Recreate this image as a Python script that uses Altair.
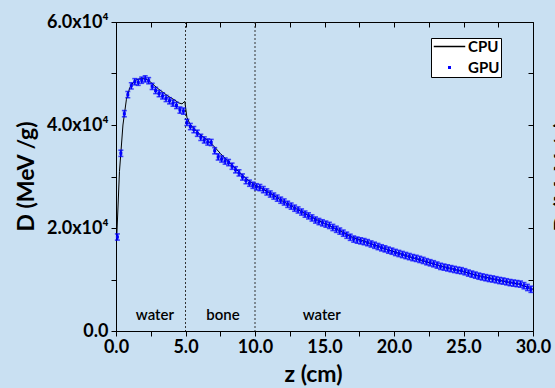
import altair as alt
import pandas as pd

# ---- data ----
CPU_Z = [0.05, 0.25, 0.5, 0.75, 1.0, 1.25, 1.5, 1.75, 2.0, 2.25, 2.5, 2.75, 3.0, 3.25,
         3.5, 3.75, 4.0, 4.25, 4.5, 4.75, 4.95, 5.1, 5.3, 5.6, 6.0, 6.5, 7.0, 7.5, 8.0,
         8.5, 9.0, 9.5, 10.0, 10.5, 11.0, 12.0, 13.0, 14.0, 15.0, 16.0, 17.0, 18.0,
         19.0, 20.0, 21.0, 22.0, 23.0, 24.0, 25.0, 26.0, 27.0, 28.0, 29.0, 30.0]
CPU_D = [18000, 31000, 40000, 45000, 47300, 48300, 48800, 49000, 49000, 48800, 48300,
         47700, 47100, 46600, 46100, 45600, 45200, 44800, 44300, 44100, 44600, 41500,
         40300, 39300, 38300, 37200, 36000, 34500, 33100, 31800, 30500, 29300, 28300,
         27700, 26900, 25200, 23700, 22200, 20900, 19600, 18200, 17300, 16300, 15400,
         14500, 13700, 12900, 12200, 11500, 10800, 10200, 9600, 9100, 8100]

GPU_Z = [0.1, 0.35, 0.6, 0.85, 1.1, 1.35, 1.6, 1.85, 2.1, 2.35,
         2.6, 2.85, 3.1, 3.35, 3.6, 3.85, 4.1, 4.35, 4.6, 4.85,
         5.1, 5.35, 5.6, 5.85, 6.1, 6.35, 6.6, 6.85, 7.1, 7.35,
         7.6, 7.85, 8.1, 8.35, 8.6, 8.85, 9.1, 9.35, 9.6, 9.85,
         10.1, 10.35, 10.6, 10.85, 11.1, 11.35, 11.6, 11.85, 12.1, 12.35,
         12.6, 12.85, 13.1, 13.35, 13.6, 13.85, 14.1, 14.35, 14.6, 14.85,
         15.1, 15.35, 15.6, 15.85, 16.1, 16.35, 16.6, 16.85, 17.1, 17.35,
         17.6, 17.85, 18.1, 18.35, 18.6, 18.85, 19.1, 19.35, 19.6, 19.85,
         20.1, 20.35, 20.6, 20.85, 21.1, 21.35, 21.6, 21.85, 22.1, 22.35,
         22.6, 22.85, 23.1, 23.35, 23.6, 23.85, 24.1, 24.35, 24.6, 24.85,
         25.1, 25.35, 25.6, 25.85, 26.1, 26.35, 26.6, 26.85, 27.1, 27.35,
         27.6, 27.85, 28.1, 28.35, 28.6, 28.85, 29.1, 29.35, 29.6, 29.85]
GPU_D = [18250, 34500, 42200, 45900, 47600, 48400, 48300, 48700, 48950, 48600,
         47500, 46700, 46100, 45650, 45150, 44700, 44250, 43800, 42900, 42700,
         40500, 39700, 39100, 38400, 37600, 37100, 36700, 36600, 35000, 33800,
         33400, 33000, 32700, 32000, 31300, 30700, 29900, 29200, 28700, 28300,
         28000, 27850, 27450, 27000, 26600, 26200, 25800, 25400, 25050, 24600,
         24250, 23850, 23500, 23100, 22700, 22350, 21950, 21550, 21250, 21000,
         20750, 20500, 20100, 19750, 19400, 19000, 18600, 18200, 17850, 17650,
         17500, 17350, 17150, 16900, 16650, 16400, 16150, 15950, 15700, 15500,
         15250, 15050, 14850, 14650, 14450, 14250, 14100, 13900, 13700, 13450,
         13250, 13050, 12800, 12550, 12400, 12250, 12100, 11950, 11800, 11700,
         11500, 11250, 11050, 10850, 10650, 10500, 10350, 10200, 10100, 9950,
         9800, 9700, 9550, 9400, 9300, 9200, 9100, 8800, 8450, 8100]
GPU_ERR = 600

BOUNDARY_Z = [5.0, 10.0]
REGION_NAMES = ["water", "bone", "water"]
REGION_Z = [2.8, 7.7, 14.8]
REGION_D = [3100, 3100, 3100]

SERIES = ["CPU", "GPU"]
X_TICKS = [0, 2.5, 5, 7.5, 10, 12.5, 15, 17.5, 20, 22.5, 25, 27.5, 30]
Y_TICKS = [0, 10000, 20000, 30000, 40000, 50000, 60000]

# ---- tables ----
cpu = pd.DataFrame({"z": CPU_Z, "D": CPU_D})
gpu = pd.DataFrame({"z": GPU_Z, "D": GPU_D})
gpu["series"] = "GPU"
gpu["lo"] = gpu["D"] - GPU_ERR
gpu["hi"] = gpu["D"] + GPU_ERR
bounds = pd.DataFrame({"z": BOUNDARY_Z})
regions = pd.DataFrame({"z": REGION_Z, "D": REGION_D, "name": REGION_NAMES})

FONT = "Lato"
PW, PH = 417, 309
xscale = alt.Scale(domain=[0, 30], nice=False, zero=False)
yscale = alt.Scale(domain=[0, 60000], nice=False)

x_main = alt.Axis(
    orient="bottom", values=X_TICKS, tickSize=5, labelPadding=2,
    labelExpr="datum.value % 5 == 0 ? format(datum.value, '.1f') : ''",
    labelFont=FONT, labelFontSize=18, labelFontWeight="bold", labelColor="black",
    labelOverlap=False, labelFlush=False,
    title="z (cm)", titleFont=FONT, titleFontSize=23, titleFontWeight="bold",
    titleX=197, titleY=50, titleBaseline="alphabetic", titleColor="black",
)
y_main = alt.Axis(
    orient="left", values=Y_TICKS, tickSize=5, labelPadding=3,
    labelExpr="datum.value % 20000 == 0 ? (datum.value == 0 ? '0.0' : format(datum.value / 10000, '.1f') + 'x10\u2074') : ''",
    labelFont=FONT, labelFontSize=18, labelFontWeight="bold", labelColor="black",
    labelOverlap=False, labelFlush=False,
    title="D (MeV /g)", titleFont=FONT, titleFontSize=23, titleFontWeight="bold",
    titleX=-101, titleY=154, titleBaseline="top", titleAngle=270, titleAlign="center",
    titleColor="black",
)
x_top = alt.Axis(orient="bottom", offset=-PH, values=X_TICKS, labels=False,
                 domain=False, tickSize=5, title=None)
y_right = alt.Axis(orient="left", offset=-PW, values=Y_TICKS, labels=False,
                   domain=False, tickSize=5, title=None)
y_title_right = alt.Axis(
    orient="right", labels=False, ticks=False, domain=False,
    title="D (MeV /g)", titleFont=FONT, titleFontSize=23, titleFontWeight="bold",
    titleX=19, titleY=154, titleBaseline="top", titleAngle=270, titleAlign="center",
    titleColor="black",
)

CPU_PATH = "M-3,0L3,0"
GPU_PATH = "M-0.15,-0.15L0.15,-0.15L0.15,0.15L-0.15,0.15Z"
legend = alt.Legend(
    title=None, orient="none", legendX=315, legendY=16,
    fillColor="white", strokeColor="black", padding=1, rowPadding=5,
    labelFont=FONT, labelFontSize=15, labelFontWeight="bold", labelColor="black",
    symbolSize=110, symbolOffset=10, labelOffset=11, symbolStrokeWidth=1.4,
)

line = alt.Chart(cpu).mark_line(color="black", strokeWidth=1).encode(
    x=alt.X("z:Q", scale=xscale, axis=x_main),
    y=alt.Y("D:Q", scale=yscale, axis=y_main),
)

errs = alt.Chart(gpu).mark_errorbar(ticks={"size": 5}, thickness=1.6, color="#0000ff").encode(
    x=alt.X("z:Q", axis=None),
    y=alt.Y("lo:Q", axis=None, title=None),
    y2="hi:Q",
)

points = alt.Chart(gpu).mark_point(filled=False, size=110, strokeWidth=1.4, opacity=1).encode(
    x=alt.X("z:Q", axis=x_top),
    y=alt.Y("D:Q", axis=y_right),
    color=alt.Color("series:N", scale=alt.Scale(domain=SERIES, range=["black", "#0000ff"]), legend=legend),
    shape=alt.Shape("series:N", scale=alt.Scale(domain=SERIES, range=[CPU_PATH, GPU_PATH]), legend=legend),
)

rules = alt.Chart(bounds).mark_rule(color="#333333", strokeWidth=1, strokeDash=[2, 2]).encode(
    x=alt.X("z:Q", axis=None),
)

labels = alt.Chart(regions).mark_text(font=FONT, fontSize=15, fontWeight=600, color="black").encode(
    x=alt.X("z:Q", axis=None),
    y=alt.Y("D:Q", axis=y_title_right),
    text="name:N",
)

chart = alt.layer(rules, line, errs, points, labels).resolve_axis(
    x="independent", y="independent"
).properties(
    width=PW, height=PH,
    padding={"left": 116, "top": 22, "right": 22, "bottom": 57},
    autosize=alt.AutoSizeParams(type="none"),
    background="#c9e0f2",
).configure_view(
    stroke="black", strokeWidth=1
).configure_axis(
    grid=False, domainColor="black", tickColor="black", domainWidth=1, tickWidth=1
)

chart.save("out.html", embed_options={"renderer": "svg", "actions": False})
